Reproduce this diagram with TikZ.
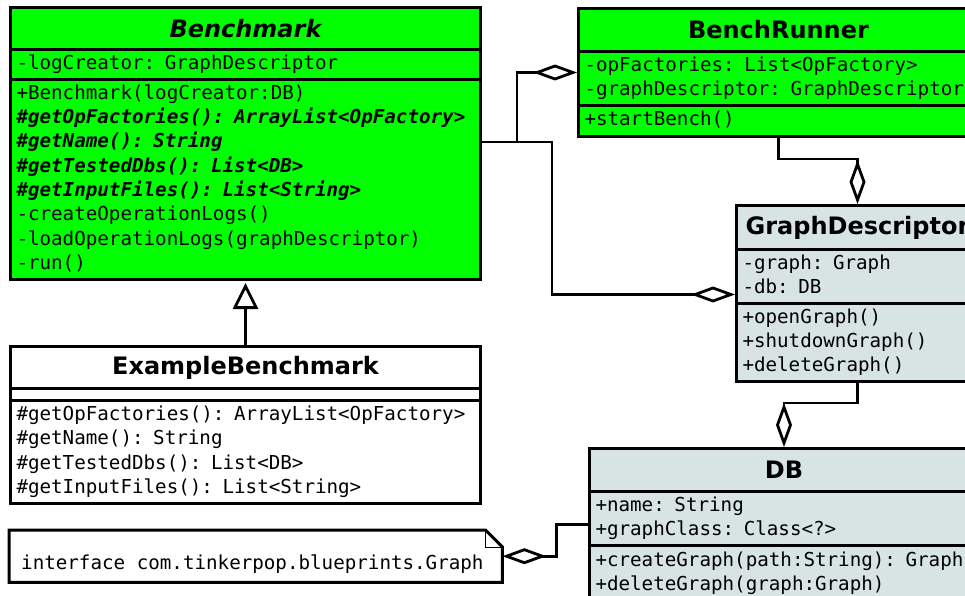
\documentclass[tikz,border=0pt]{standalone}
\usepackage{fontspec}
\newfontfamily\sansf{DejaVu Sans}
\newfontfamily\monof{DejaVu Sans Mono}
\usetikzlibrary{arrows.meta}
\definecolor{umlgreen}{RGB}{0,255,0}
\definecolor{umlgray}{RGB}{216,228,228}
\tikzset{
  comp/.style={draw, line width=3pt, anchor=north west, inner xsep=6pt, inner ysep=0pt,
    align=left, font={\monof\fontsize{19.2}{24.3}\selectfont}},
  titlec/.style={draw, line width=3pt, anchor=north west, inner sep=0pt, align=center,
    font={\sansf\bfseries\fontsize{24}{29}\selectfont}},
  conn/.style={line width=2.8pt},
  aggr/.style={conn, {Diamond[open, fill=white, length=44pt, width=16pt]}-},
  gen/.style={conn, -{Triangle[open, fill=white, length=26pt, width=25pt]}, shorten >=2pt},
  notetxt/.style={inner sep=0pt, font={\monof\fontsize{19.2}{24.3}\selectfont}},
}
\begin{document}
\begin{tikzpicture}[x=1pt, y=-1pt]
\useasboundingbox (0,0) rectangle (965,596);
\clip (0,0) rectangle (965,596);

% Benchmark
\node[titlec, fill=umlgreen, text width=470pt, minimum height=42pt] (bm-t) at (9,6) {\itshape Benchmark};
\node[comp, fill=umlgreen, text width=458pt, minimum height=30pt] (bm-a) at (9,48) {\strut-logCreator: GraphDescriptor};
\node[comp, fill=umlgreen, text width=458pt, minimum height=200pt] (bm-m) at (9,78) {%
\strut+Benchmark(logCreator:DB)\\
\strut{\bfseries\itshape \#getOpFactories(): ArrayList<OpFactory>}\\
\strut{\bfseries\itshape \#getName(): String}\\
\strut{\bfseries\itshape \#getTestedDbs(): List<DB>}\\
\strut{\bfseries\itshape \#getInputFiles(): List<String>}\\
\strut-createOperationLogs()\\
\strut-loadOperationLogs(graphDescriptor)\\
\strut-run()};

% BenchRunner
\node[titlec, fill=umlgreen, text width=400pt, minimum height=43pt] (br-t) at (577,7) {BenchRunner};
\node[comp, fill=umlgreen, text width=388pt, minimum height=54pt] (br-a) at (577,50) {%
\strut-opFactories: List<OpFactory>\\
\strut-graphDescriptor: GraphDescriptor};
\node[comp, fill=umlgreen, text width=388pt, minimum height=31pt] (br-m) at (577,104) {\strut+startBench()};

% GraphDescriptor
\node[titlec, fill=umlgray, text width=242pt, minimum height=44pt] (gd-t) at (735,204) {GraphDescriptor};
\node[comp, fill=umlgray, text width=230pt, minimum height=54pt] (gd-a) at (735,248) {%
\strut-graph: Graph\\
\strut-db: DB};
\node[comp, fill=umlgray, text width=230pt, minimum height=78pt] (gd-m) at (735,302) {%
\strut+openGraph()\\
\strut+shutdownGraph()\\
\strut+deleteGraph()};

% DB
\node[titlec, fill=umlgray, text width=389pt, minimum height=43pt] (db-t) at (588,447) {DB};
\node[comp, fill=umlgray, text width=377pt, minimum height=54pt] (db-a) at (588,490) {%
\strut+name: String\\
\strut+graphClass: Class<?>};
\node[comp, fill=umlgray, text width=377pt, minimum height=56pt] (db-m) at (588,544) {%
\strut+createGraph(path:String): Graph\\
\strut+deleteGraph(graph:Graph)};

% ExampleBenchmark
\node[titlec, fill=white, text width=470pt, minimum height=42pt] (eb-t) at (9,345) {ExampleBenchmark};
\node[comp, fill=white, text width=458pt, minimum height=12pt] (eb-a) at (9,387) {};
\node[comp, fill=white, text width=458pt, minimum height=103pt] (eb-m) at (9,399) {%
\strut\#getOpFactories(): ArrayList<OpFactory>\\
\strut\#getName(): String\\
\strut\#getTestedDbs(): List<DB>\\
\strut\#getInputFiles(): List<String>};

% Note
\node[anchor=north west, inner sep=0pt, minimum width=493pt, minimum height=52pt] (note) at (9,530) {};
\draw[line width=3pt, fill=white] (note.north west) -- ([xshift=-17pt]note.north east)
  -- ([yshift=-17pt]note.north east) -- (note.south east) -- (note.south west) -- cycle;
\draw[line width=1pt] ([xshift=-17pt]note.north east) -- ([xshift=-17pt,yshift=-17pt]note.north east)
  -- ([yshift=-17pt]note.north east);
\node[notetxt, anchor=west] (notetext) at ([xshift=12pt,yshift=-8pt]note.west) {interface com.tinkerpop.blueprints.Graph};

% Connectors
\draw[aggr] ([yshift=6pt]br-a.west) -- ++(-60,0) |- ([yshift=-64pt]bm-m.north east);
\draw[aggr] ([yshift=-18pt]gd-a.west) -- ++(-183,0) |- ([yshift=-64pt]bm-m.north east);
\draw[aggr] (gd-t.north) -- ++(0,-45) -| (br-m.south);
\draw[aggr] (db-t.north) -- ++(0,-44) -| (gd-m.south);
\draw[aggr] (note.east) -- ++(54,0) |- ([yshift=-6pt]db-a.west);
\draw[gen] (eb-t.north) -- (bm-m.south);
\end{tikzpicture}
\end{document}
